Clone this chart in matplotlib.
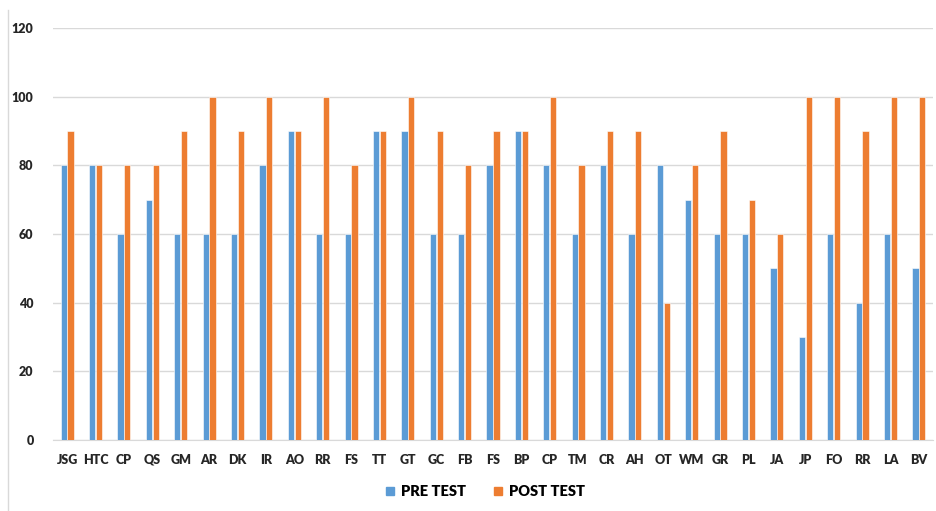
import numpy as np
import matplotlib.pyplot as plt
from matplotlib.lines import Line2D

# Data

names = ['JSG', 'HTC', 'CP', 'QS', 'GM', 'AR', 'DK', 'IR', 'AO', 'RR', 'FS',
         'TT', 'GT', 'GC', 'FB', 'FS', 'BP', 'CP', 'TM', 'CR', 'AH', 'OT',
         'WM', 'GR', 'PL', 'JA', 'JP', 'FO', 'RR', 'LA', 'BV']
pre_test = [80, 80, 60, 70, 60, 60, 60, 80, 90, 60, 60,
            90, 90, 60, 60, 80, 90, 80, 60, 80, 60, 80,
            70, 60, 60, 50, 30, 60, 40, 60, 50]
post_test = [90, 80, 80, 80, 90, 100, 90, 100, 90, 100, 80,
             90, 100, 90, 80, 90, 90, 100, 80, 90, 90, 40,
             80, 90, 70, 60, 100, 100, 90, 100, 100]

blue = '#5b9bd5'
orange = '#ed7d31'

plt.rcParams['font.family'] = ['Lato', 'DejaVu Sans']

fig = plt.figure(figsize=(9.36, 5.11), dpi=100)
ax = fig.add_axes([53/936, 1-440/511, (933-53)/936, (440-28)/511])

x = np.arange(len(names))
w = 0.22
ax.bar(x - w/2 - 0.01, pre_test, w, color=blue, edgecolor='white', linewidth=0.4, label='PRE TEST', zorder=3)
ax.bar(x + w/2 + 0.01, post_test, w, color=orange, edgecolor='white', linewidth=0.4, label='POST TEST', zorder=3)

ax.set_xlim(-0.5, len(names) - 0.5)
ax.set_ylim(0, 120)
ax.set_yticks(range(0, 121, 20))
ax.set_xticks(x)
ax.set_xticklabels(names, fontsize=9, fontweight='heavy', color='#262626')
for lab in ax.get_yticklabels():
    lab.set_fontsize(9)
    lab.set_fontweight('heavy')
    lab.set_color('#262626')

ax.grid(axis='y', color='#d9d9d9', linewidth=1, zorder=0)
for s in ['top', 'right', 'left']:
    ax.spines[s].set_visible(False)
ax.spines['bottom'].set_color('#d9d9d9')
ax.tick_params(length=0, pad=10)
ax.tick_params(axis='y', pad=14)

handles = [Line2D([], [], marker='s', linestyle='none', color=blue, markersize=6),
           Line2D([], [], marker='s', linestyle='none', color=orange, markersize=6)]
fig.legend(handles, ['PRE TEST', 'POST TEST'], loc='center', bbox_to_anchor=(482/936, 1-492/511),
           ncol=2, frameon=False, handletextpad=0.0, columnspacing=1.4, handlelength=1.5,
           prop={'size': 10.5, 'weight': 'heavy'})

# left border of the chart area
fig.add_artist(Line2D([8/936, 8/936], [0, 1-10/511], color='#d9d9d9', linewidth=1))

fig.savefig('out.png', dpi=100)
